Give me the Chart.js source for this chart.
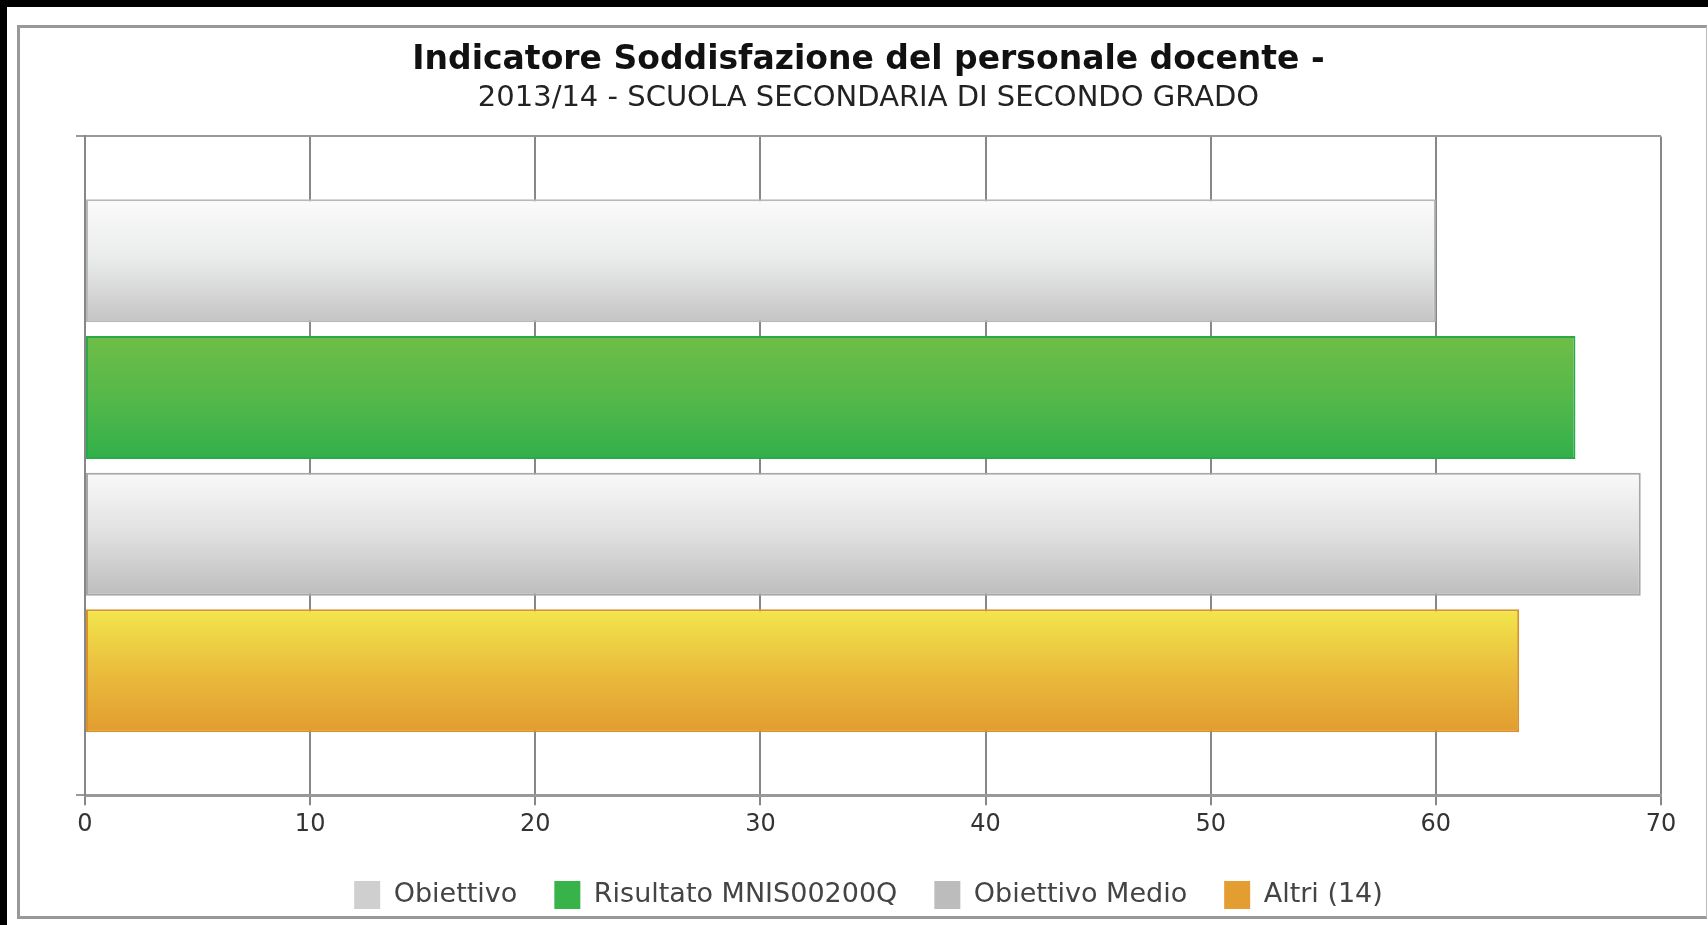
<!DOCTYPE html>
<html>
<head>
<meta charset="utf-8">
<script src="https://cdn.jsdelivr.net/npm/chart.js@4.4.1/dist/chart.umd.min.js"></script>
<style>
  html, body { margin:0; padding:0; background:#fff; width:1708px; height:925px; overflow:hidden; }
  .strip-top { position:absolute; left:0; top:0; width:1708px; height:7px; background:#000; }
  .strip-left { position:absolute; left:0; top:0; width:7px; height:925px; background:#000; }
  .panel { position:absolute; left:17px; top:25px; width:1690px; height:894px; box-sizing:border-box;
           border-left:3px solid #999; border-top:3px solid #999; border-bottom:3px solid #999; border-right:1px solid #bbb; background:#fff; }
  .wrap { position:absolute; left:0; top:0; width:1708px; height:925px; }
</style>
</head>
<body>
<div class="strip-top"></div>
<div class="strip-left"></div>
<div class="panel"></div>
<div class="wrap"><canvas id="chart"></canvas></div>
<script>
// --- data ---
var categories = [''];
var seriesNames = ['Obiettivo', 'Risultato MNIS00200Q', 'Obiettivo Medio', 'Altri (14)'];
var seriesValues = [60, 66.2, 69.1, 63.7];
var xMin = 0, xMax = 70, xStep = 10;

// --- styles per series ---
var legendColors = ['#cfcfcf', '#37b34a', '#bcbcbc', '#e39d30'];
var borderColors = ['#b8b8b8', '#2aa84a', '#a6a6a6', '#d8922c'];
var gradStops = [
  ['#fbfbfb', '#e9eaea', '#c4c4c4'],
  ['#6fbe46', '#55b84a', '#31b04a'],
  ['#f9f9f9', '#e0e0e0', '#bdbdbd'],
  ['#f2e64c', '#eabd3d', '#e29c2f']
];

var FONT = "'DejaVu Sans', Verdana, sans-serif";

// vertical gradient inside each bar
var barGradient = {
  id: 'barGradient',
  beforeDatasetsDraw: function(chart) {
    var ctx = chart.ctx;
    chart.data.datasets.forEach(function(ds, i) {
      var meta = chart.getDatasetMeta(i);
      meta.data.forEach(function(el) {
        var top = el.y - el.height / 2, bot = el.y + el.height / 2;
        var g = ctx.createLinearGradient(0, top, 0, bot);
        var s = gradStops[i];
        g.addColorStop(0, s[0]);
        g.addColorStop(0.5, s[1]);
        g.addColorStop(1, s[2]);
        el.options = Object.assign({}, el.options, { backgroundColor: g });
      });
    });
  }
};

var datasets = seriesNames.map(function(name, i) {
  return {
    label: name,
    data: [seriesValues[i]],
    backgroundColor: legendColors[i],
    borderColor: borderColors[i],
    borderWidth: 2,
    borderSkipped: false,
    categoryPercentage: 0.83,
    barPercentage: 0.9
  };
});

new Chart(document.getElementById('chart'), {
  type: 'bar',
  data: { labels: categories, datasets: datasets },
  plugins: [barGradient],
  options: {
    indexAxis: 'y',
    responsive: true,
    maintainAspectRatio: false,
    animation: false,
    layout: { padding: { left: 76, right: 47, top: 41, bottom: 6 } },
    plugins: {
      title: {
        display: true,
        text: 'Indicatore Soddisfazione del personale docente -',
        color: '#111',
        font: { family: FONT, size: 33, weight: 'bold' },
        padding: { top: 0, bottom: 0 }
      },
      subtitle: {
        display: true,
        text: '2013/14 - SCUOLA SECONDARIA DI SECONDO GRADO',
        color: '#222',
        font: { family: FONT, size: 29 },
        padding: { top: 0, bottom: 21 }
      },
      legend: {
        position: 'bottom',
        labels: {
          color: '#444',
          font: { family: FONT, size: 27 },
          boxWidth: 26,
          boxHeight: 28,
          padding: 37,
          generateLabels: function(chart) {
            var items = Chart.defaults.plugins.legend.labels.generateLabels(chart);
            items.forEach(function(it) { it.lineWidth = 0; it.strokeStyle = it.fillStyle; });
            return items;
          }
        }
      },
      tooltip: { enabled: false }
    },
    scales: {
      x: {
        min: xMin,
        max: xMax,
        ticks: { stepSize: xStep, color: '#333', padding: 5, font: { family: FONT, size: 24 } },
        grid: { color: '#878787', lineWidth: 2, tickLength: 10, drawTicks: true },
        border: { color: '#999', width: 3 }
      },
      y: {
        ticks: { display: false },
        grid: { color: '#999', lineWidth: 2, tickLength: 9, drawTicks: true },
        border: { color: '#878787', width: 2 }
      }
    }
  }
});
</script>
</body>
</html>
